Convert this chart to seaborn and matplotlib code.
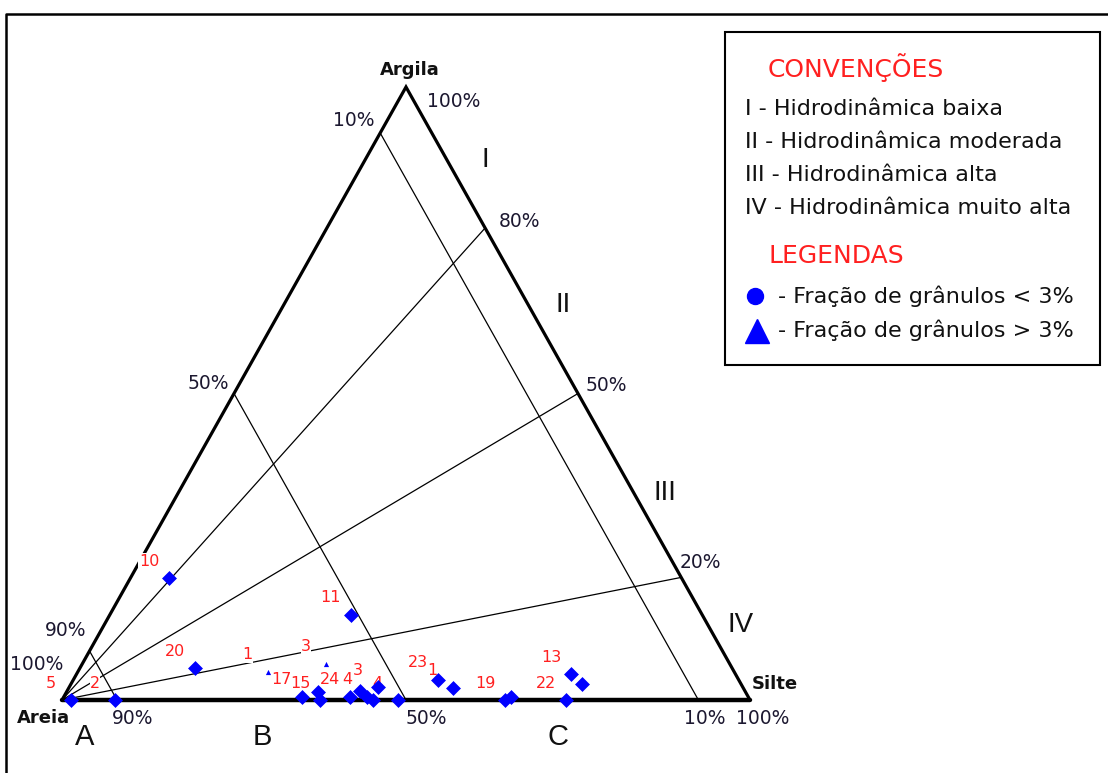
import numpy as np
import pandas as pd
import matplotlib
matplotlib.use("Agg")
import matplotlib.pyplot as plt
import seaborn as sns
from matplotlib.patches import Rectangle

# ---------------- data (percentages: sand, silt, clay) ----------------
pt_labels = ["5", "2", "10", "20", "11", "17", "", "15", "24", "", "4", "", "3", "4",
             "23", "1", "19", "", "22", "13", ""]
pt_sand = [98.7, 92.3, 74.5, 78.1, 51.1, 64.9, 62.1, 62.5, 57.9, 55.9, 55.4, 54.8, 53.0, 51.2,
           43.7, 42.2, 35.6, 34.5, 26.7, 23.9, 23.1]
pt_silt = [1.3, 7.7, 5.6, 16.7, 35.0, 34.6, 36.6, 37.5, 41.6, 42.6, 44.1, 45.2, 44.9, 48.8,
           53.0, 55.8, 64.4, 65.0, 73.3, 71.9, 74.3]
pt_clay = [0.0, 0.0, 19.9, 5.2, 13.9, 0.5, 1.3, 0.0, 0.5, 1.5, 0.5, 0.0, 2.1, 0.0,
           3.3, 2.0, 0.0, 0.5, 0.0, 4.2, 2.6]

tri_labels = ["1", "3"]
tri_sand = [67.8, 58.7]
tri_silt = [27.6, 35.4]
tri_clay = [4.6, 5.9]

# constant-sand lines (position) and their labels
sand_lines = [92.0, 50.0, 7.5]
sand_line_labels = ["90%", "50%", "10%"]
# clay/(clay+silt) ratio lines from the sand vertex
ratio_lines = [77.0, 50.0, 20.0]
ratio_line_labels = ["80%", "50%", "20%"]

region_labels = ["I", "II", "III", "IV"]
sand_class_labels = ["A", "B", "C"]
legend_items = ["I - Hidrodinâmica baixa", "II - Hidrodinâmica moderada",
                "III - Hidrodinâmica alta", "IV - Hidrodinâmica muito alta"]
legend_markers = ["- Fração de grânulos < 3%", "- Fração de grânulos > 3%"]

# ---------------- geometry helpers ----------------
H = 0.891   # apex height (triangle drawn slightly taller than equilateral)
APX = 0.5


def tern(sand, silt, clay):
    s = np.asarray(sand, float); si = np.asarray(silt, float); c = np.asarray(clay, float)
    tot = s + si + c
    return (si + c * APX) / tot, (c * H) / tot


def P(px, py):
    """pixel position -> data coords (layout helper for text)"""
    return (px - 62) / 688.0, (700 - py) / 688.0


K = 0.72  # points per pixel at 100 dpi

sns.set_style("white")
plt.rcParams["font.family"] = ["DejaVu Sans"]

fig = plt.figure(figsize=(11.08, 7.73), dpi=100)
ax = fig.add_axes([0, 0, 1, 1])

# outer frame
fx, fy = zip(P(6, 775), P(6, 14), P(1110, 14))
ax.plot(fx, fy, color="black", lw=1.8, clip_on=False)

# ---------------- triangle ----------------
vx, vy = tern([100, 0, 0], [0, 100, 0], [0, 0, 100])
ax.plot([vx[0], vx[2], vx[1]], [vy[0], vy[2], vy[1]], color="black", lw=2.3,
        solid_joinstyle="miter", zorder=2)
ax.plot([vx[0], vx[1]], [vy[0], vy[1]], color="black", lw=3.2, zorder=2)

# constant sand lines
for s in sand_lines:
    lx, ly = tern([s, s], [0, 100 - s], [100 - s, 0])
    ax.plot(lx, ly, color="black", lw=0.9, zorder=1)

# ratio lines from sand vertex
for r in ratio_lines:
    lx, ly = tern([100, 0], [0, 100 - r], [0, r])
    ax.plot(lx, ly, color="black", lw=0.9, zorder=1)

# ---------------- edge labels ----------------
pct = dict(fontsize=13.5, color="#1c1830", ha="center", va="center")
left_off = [(-24, -20), (-26, -10), (-26, -12)]
bot_off = [(16, 19), (20, 19), (6, 19)]
for s, lab, lo, bo in zip(sand_lines, sand_line_labels, left_off, bot_off):
    lx, ly = tern([s, s], [0, 100 - s], [100 - s, 0])
    ax.annotate(lab, (lx[0], ly[0]), xytext=(lo[0] * K, -lo[1] * K),
                textcoords="offset points", **pct)
    ax.annotate(lab, (lx[1], ly[1]), xytext=(bo[0] * K, -bo[1] * K),
                textcoords="offset points", **pct)
# vertex percent labels
ax.annotate("100%", (vx[0], vy[0]), xytext=(-25 * K, 36 * K), textcoords="offset points", **pct)
ax.annotate("100%", (vx[1], vy[1]), xytext=(13 * K, -19 * K), textcoords="offset points", **pct)
ax.annotate("100%", (vx[2], vy[2]), xytext=(48 * K, -15 * K), textcoords="offset points", **pct)
# right edge labels (ratio lines)
right_off = [(34, -6), (28, -8), (19, -15)]
for r, lab, ro in zip(ratio_lines, ratio_line_labels, right_off):
    lx, ly = tern([100, 0], [0, 100 - r], [0, r])
    ax.annotate(lab, (lx[1], ly[1]), xytext=(ro[0] * K, -ro[1] * K),
                textcoords="offset points", **pct)

# vertex names
vname = dict(fontsize=13, fontweight="bold", va="center", color="#111111")
ax.annotate("Argila", (vx[2], vy[2]), xytext=(4 * K, 17 * K), textcoords="offset points",
            ha="center", **vname)
ax.annotate("Areia", (vx[0], vy[0]), xytext=(-19 * K, -18 * K), textcoords="offset points",
            ha="center", **vname)
ax.annotate("Silte", (vx[1], vy[1]), xytext=(2 * K, 16 * K), textcoords="offset points",
            ha="left", **vname)

# region numerals and sand classes
narrow = ["Liberation Sans Narrow", "Liberation Sans", "DejaVu Sans"]
for lab, (px, py) in zip(region_labels, [(485, 160), (563, 305), (665, 493), (741, 625)]):
    ax.text(*P(px, py), lab, fontsize=20, family=narrow, ha="center", va="center", color="#111111")
for lab, (px, py) in zip(sand_class_labels, [(85, 737), (262, 737), (558, 737)]):
    ax.text(*P(px, py), lab, fontsize=21, family=narrow, ha="center", va="center", color="#111111")

# ---------------- data points ----------------
px_, py_ = tern(pt_sand, pt_silt, pt_clay)
df = pd.DataFrame({"x": px_, "y": py_, "label": pt_labels})
tx_, ty_ = tern(tri_sand, tri_silt, tri_clay)
dft = pd.DataFrame({"x": tx_, "y": ty_, "label": tri_labels})

lab_style = dict(fontsize=11.5, color="#ff2020", ha="center", va="center", zorder=3,
                 bbox=dict(facecolor="white", edgecolor="none", pad=0.2))
for d in (df, dft):
    for _, row in d.iterrows():
        if row["label"]:
            ax.annotate(row["label"], (row["x"], row["y"]), xytext=(-20 * K, 17 * K),
                        textcoords="offset points", **lab_style)

sns.scatterplot(data=df, x="x", y="y", marker="D", s=50, color="#0000ff",
                edgecolor="#0000ff", linewidth=0.5, ax=ax, zorder=5, legend=False)
sns.scatterplot(data=dft, x="x", y="y", marker="^", s=14, color="#0000ff",
                edgecolor="#0000ff", linewidth=0, ax=ax, zorder=5, legend=False)
ax.set_xlim(-62 / 688.0, 1046 / 688.0)
ax.set_ylim(-73 / 688.0, 700 / 688.0)
ax.axis("off")

# ---------------- legend box ----------------
x0, y0 = P(725, 365)
x1, y1 = P(1100, 32)
ax.add_patch(Rectangle((x0, y0), x1 - x0, y1 - y0, facecolor="white", edgecolor="black",
                       lw=1.5, zorder=6))
ax.text(*P(768, 68), "CONVENÇÕES", fontsize=18, color="#ff2020", ha="left", va="center", zorder=7)
for i, t in enumerate(legend_items):
    ax.text(*P(745, 109 + 33 * i), t, fontsize=16, color="#111111", ha="left", va="center", zorder=7)
ax.text(*P(768, 256), "LEGENDAS", fontsize=18, color="#ff2020", ha="left", va="center", zorder=7)
mx, my = P(755, 296)
ax.plot([mx], [my], marker="o", ms=11.5, color="#0000ff", zorder=7)
mx, my = P(757, 331)
ax.plot([mx], [my], marker="^", ms=17, color="#0000ff", zorder=7)
for i, t in enumerate(legend_markers):
    ax.text(*P(778, 296 + 34 * i), t, fontsize=16, color="#111111", ha="left", va="center", zorder=7)

fig.savefig("out.png", dpi=100, facecolor="white")
